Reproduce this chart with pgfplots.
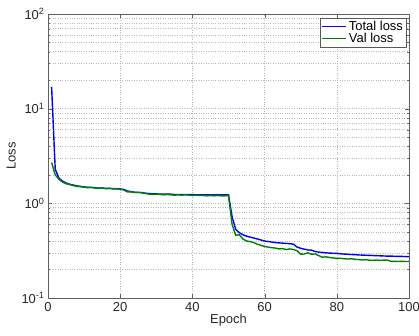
\documentclass[border=0pt]{standalone}
\usepackage{pgfplots}
\pgfplotsset{compat=1.18}
\usepackage{fontspec}
\setmainfont{Liberation Sans}
\definecolor{mblue}{RGB}{0,0,255}
\definecolor{mgreen}{RGB}{0,128,0}
\pgfplotsset{
  legend image code/.code={\draw[mark repeat=2,mark phase=2,#1] plot coordinates {(0bp,0bp) (12bp,0bp) (24bp,0bp)};},
}
\newcommand{\tp}[1]{10\textsuperscript{#1}}
\begin{document}
\begin{tikzpicture}[x=1bp,y=1bp]
\path[use as bounding box] (-48bp,-38bp) rectangle (371bp,298bp);
\begin{axis}[
  scale only axis,
  width=361bp, height=284bp,
  at={(0,0)}, anchor=south west,
  ymode=log,
  xmin=0, xmax=100, ymin=0.1, ymax=100,
  xtick={0,20,...,100},
  ytick={0.1,1,10,100},
  yticklabels={\tp{-1},\tp{0},\tp{1},\tp{2}},
  tick align=inside,
  axis line style={gray!75!black},
  tick style={gray!75!black},
  major tick length=4bp, minor tick length=2bp,
  xmajorgrids, ymajorgrids, yminorgrids,
  major grid style={dotted, gray!55, line width=0.6bp},
  minor grid style={dotted, gray!55, line width=0.6bp},
  ticklabel style={font=\fontsize{13}{15}\selectfont, text=black!85},
  /pgf/number format/assume math mode=true,
  xticklabel style={yshift=-1bp},
  xlabel={Epoch}, ylabel={Loss},
  label style={font=\fontsize{13}{15}\selectfont, text=black!85},
  xlabel style={yshift=4bp},
  ylabel style={yshift=-1bp},
  legend style={at={(rel axis cs:0.992,0.986)}, anchor=north east,
    draw=gray!70!black, fill=white, font=\fontsize{13}{15}\selectfont,
    inner sep=1pt, row sep=-3pt},
  legend cell align=left,
]
\addplot[draw=mblue, line width=1.4bp] table {
1 17
2 2.3
3 1.85
4 1.72
5 1.64
6 1.59
7 1.56
8 1.53
9 1.51
10 1.49
11 1.48
12 1.47
13 1.46
14 1.45
15 1.45
16 1.44
17 1.44
18 1.43
19 1.43
20 1.42
21 1.40
22 1.35
23 1.33
24 1.31
25 1.30
26 1.30
27 1.28
28 1.27
29 1.26
30 1.26
31 1.25
32 1.25
33 1.25
34 1.25
35 1.24
36 1.24
37 1.24
38 1.24
39 1.24
40 1.24
41 1.23
42 1.23
43 1.23
44 1.23
45 1.23
46 1.23
47 1.23
48 1.23
49 1.23
50 1.23
51 0.72
52 0.53
53 0.49
54 0.465
55 0.45
56 0.44
57 0.43
58 0.42
59 0.41
60 0.40
61 0.395
62 0.39
63 0.385
64 0.382
65 0.38
66 0.377
67 0.375
68 0.37
69 0.345
70 0.335
71 0.328
72 0.322
73 0.32
74 0.31
75 0.305
76 0.303
77 0.30
78 0.298
79 0.297
80 0.296
81 0.293
82 0.291
83 0.29
84 0.288
85 0.287
86 0.285
87 0.284
88 0.283
89 0.282
90 0.281
91 0.28
92 0.279
93 0.278
94 0.277
95 0.277
96 0.276
97 0.275
98 0.275
99 0.274
100 0.274
};
\addlegendentry{Total loss}
\addplot[draw=mgreen, line width=1.4bp] table {
1 2.7
2 2.0
3 1.8
4 1.68
5 1.61
6 1.58
7 1.54
8 1.51
9 1.50
10 1.48
11 1.46
12 1.48
13 1.45
14 1.44
15 1.45
16 1.43
17 1.44
18 1.42
19 1.42
20 1.41
21 1.38
22 1.32
23 1.32
24 1.30
25 1.31
26 1.29
27 1.27
28 1.25
29 1.24
30 1.25
31 1.24
32 1.23
33 1.24
34 1.23
35 1.22
36 1.23
37 1.22
38 1.23
39 1.22
40 1.21
41 1.22
42 1.21
43 1.21
44 1.20
45 1.21
46 1.20
47 1.21
48 1.20
49 1.20
50 1.21
51 0.60
52 0.46
53 0.465
54 0.42
55 0.40
56 0.395
57 0.385
58 0.37
59 0.36
60 0.35
61 0.345
62 0.34
63 0.337
64 0.33
65 0.332
66 0.325
67 0.33
68 0.325
69 0.315
70 0.29
71 0.292
72 0.30
73 0.29
74 0.292
75 0.28
76 0.27
77 0.272
78 0.268
79 0.265
80 0.262
81 0.263
82 0.26
83 0.258
84 0.26
85 0.256
86 0.255
87 0.252
88 0.254
89 0.251
90 0.25
91 0.252
92 0.25
93 0.251
94 0.252
95 0.244
96 0.244
97 0.243
98 0.244
99 0.243
100 0.243
};
\addlegendentry{Val loss}
\end{axis}
\end{tikzpicture}
\end{document}
